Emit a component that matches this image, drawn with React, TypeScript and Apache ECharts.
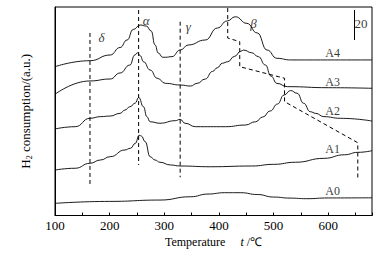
import React, { useEffect, useRef } from "react";
import * as echarts from "echarts";

// x: temperature (°C), y: H2 consumption (a.u.)
const A0 = [[100,8.1],[200,9.4],[292,10.3],[348,12.5],[380,14.3],[410,15.2],[440,15.2],[470,14],[500,12.3],[530,11.6],[560,11.2],[600,11.7],[680,11.8]];
const A1 = [[100,30.3],[137,31.5],[164,34.8],[183,37],[201,39.2],[228,43.7],[238,44.8],[247,48.1],[254,53.5],[258,53],[265,49.2],[274,39.2],[283,37],[292,35.5],[311,33.7],[329,33],[384,32.5],[460,33],[500,34.1],[540,35.5],[592,38.1],[630,40.5],[654,42.1],[680,43.2]];
const A2 = [[100,57.7],[137,59.2],[164,64.8],[183,65.9],[201,66.3],[219,68.1],[228,70.3],[237,72.5],[247,75],[253,78.7],[262,72.5],[268,65.9],[274,62.5],[292,61.5],[320,63.2],[329,64.1],[338,61.5],[357,59.2],[412,59.2],[448,60.3],[467,62.5],[480,65.7],[494,69.7],[507,74.3],[519,80.3],[531,83.3],[543,81.5],[555,74.8],[567,69.2],[577,68.1],[592,65.9],[622,64.8],[680,63]];
const A3 = [[100,80.8],[164,89.7],[201,91],[219,95],[237,100.3],[246,107],[251,108.5],[256,106.5],[262,102.5],[274,97],[287,91.5],[302,88.1],[329,87],[348,86.3],[360,88.1],[375,91],[388,96],[397,98.5],[406,101.5],[416,102.5],[428,106],[440,109.5],[445,110.3],[460,108.5],[472,105.9],[485,100.3],[495,93],[506,88.1],[525,85.9],[600,85.2],[680,84.8]];
const A4 = [[100,99.2],[164,103.2],[201,107],[219,112],[232,117],[243,124],[256,127],[267,126.3],[276,123],[283,113.7],[289,108.3],[297,105.5],[302,105.5],[314,105.9],[329,110.3],[344,113.7],[375,117],[397,125],[415,129.7],[430,132.5],[451,128.1],[470,121.7],[488,110.3],[506,104.8],[531,103.7],[680,103.7]];
const curves = [A0, A1, A2, A3, A4];

const curveNames = ["A0", "A1", "A2", "A3", "A4"];
const curveLabelPos = [[608,16.5],[608,44.1],[608,69.7],[608,89.2],[608,108.1]];

const deltaLine = [[164,121.7],[164,20.3]];
const alphaLine = [[253,137],[253,33.7]];
const gammaLine = [[329,129.2],[329,25.5]];
const betaShift = [[416,138.3],[416,118.3],[438,115.9],[438,99.2],[520,91.5],[520,75.9],[654,48.5],[654,23.7]];
const dashedLines = [deltaLine, alphaLine, gammaLine, betaShift];

const greekNames = ["δ", "α", "γ", "β"];
const greekPos = [[185,118.5],[267,130.3],[344,125.9],[463,128]];

const scaleBar = [[648,137],[648,117]];
const scaleLabel = "20";
const scaleLabelPos = [660,127.7];

const xTicks = [100, 200, 300, 400, 500, 600];

const FONT = "'Liberation Serif', 'Times New Roman', serif";

export default function App() {
  const ref = useRef<HTMLDivElement>(null);
  useEffect(() => {
    const chart = echarts.init(ref.current!, null, { renderer: "svg" });
    const series: any[] = [];
    curves.forEach((d, i) => {
      series.push({
        type: "line",
        name: curveNames[i],
        data: d,
        showSymbol: false,
        smooth: 0.5,
        smoothMonotone: "x",
        lineStyle: { color: "#000", width: 0.9 },
        silent: true,
      });
    });
    dashedLines.forEach((d) => {
      series.push({
        type: "line",
        data: d,
        showSymbol: false,
        lineStyle: { color: "#000", width: 1, type: [4, 3] },
        silent: true,
      });
    });
    series.push({
      type: "line",
      data: scaleBar,
      showSymbol: false,
      lineStyle: { color: "#000", width: 1 },
      silent: true,
    });
    series.push({
      type: "scatter",
      symbolSize: 0,
      silent: true,
      data: curveNames.map((n, i) => ({ name: n, value: curveLabelPos[i] })),
      label: { show: true, position: "inside", formatter: "{b}", color: "#000", fontFamily: FONT, fontSize: 12 },
    });
    series.push({
      type: "scatter",
      symbolSize: 0,
      silent: true,
      data: greekNames.map((n, i) => ({ name: n, value: greekPos[i] })),
      label: { show: true, position: "inside", formatter: "{b}", color: "#000", fontFamily: FONT, fontSize: 13, fontStyle: "italic" },
    });
    series.push({
      type: "scatter",
      symbolSize: 0,
      silent: true,
      data: [{ name: scaleLabel, value: scaleLabelPos }],
      label: { show: true, position: "inside", formatter: "{b}", color: "#000", fontFamily: FONT, fontSize: 13 },
    });

    chart.setOption({
      animation: false,
      backgroundColor: "#fff",
      textStyle: { fontFamily: FONT, color: "#000" },
      grid: { left: 55, right: 13, top: 7, bottom: 38.5, show: true, borderColor: "#000", borderWidth: 1, backgroundColor: "transparent" },
      xAxis: {
        type: "value",
        min: 100,
        max: 680,
        interval: 50,
        axisLine: { show: true, lineStyle: { color: "#000", width: 1 } },
        axisTick: { show: true, inside: true, length: 3, lineStyle: { color: "#000" } },
        splitLine: { show: false },
        axisLabel: {
          margin: 3,
          color: "#000",
          fontFamily: FONT,
          fontSize: 13,
          formatter: (v: number) => (xTicks.includes(v) ? String(v) : ""),
        },
        name: "Temperature     {i|t} /℃",
        nameLocation: "middle",
        nameGap: 20,
        nameTextStyle: {
          color: "#000",
          fontFamily: FONT,
          fontSize: 12,
          rich: { i: { fontStyle: "italic", fontFamily: FONT, fontSize: 12, color: "#000" } },
        },
      },
      yAxis: {
        type: "value",
        min: 0,
        max: 139,
        axisLine: { show: true, lineStyle: { color: "#000", width: 1 } },
        axisTick: { show: false },
        axisLabel: { show: false },
        splitLine: { show: false },
        name: "{a|H}{s|2}{a| consumption/(a.u.)}",
        nameLocation: "middle",
        nameGap: 22,
        nameTextStyle: {
          color: "#000",
          fontFamily: FONT,
          rich: {
            a: { fontFamily: FONT, fontSize: 13, color: "#000", lineHeight: 16 },
            s: { fontFamily: FONT, fontSize: 8, color: "#000", verticalAlign: "bottom", lineHeight: 16 },
          },
        },
      },
      series,
    });
    return () => chart.dispose();
  }, []);
  return <div ref={ref} style={{ position: "fixed", left: 0, top: 0, width: 385, height: 254 }} />;
}
